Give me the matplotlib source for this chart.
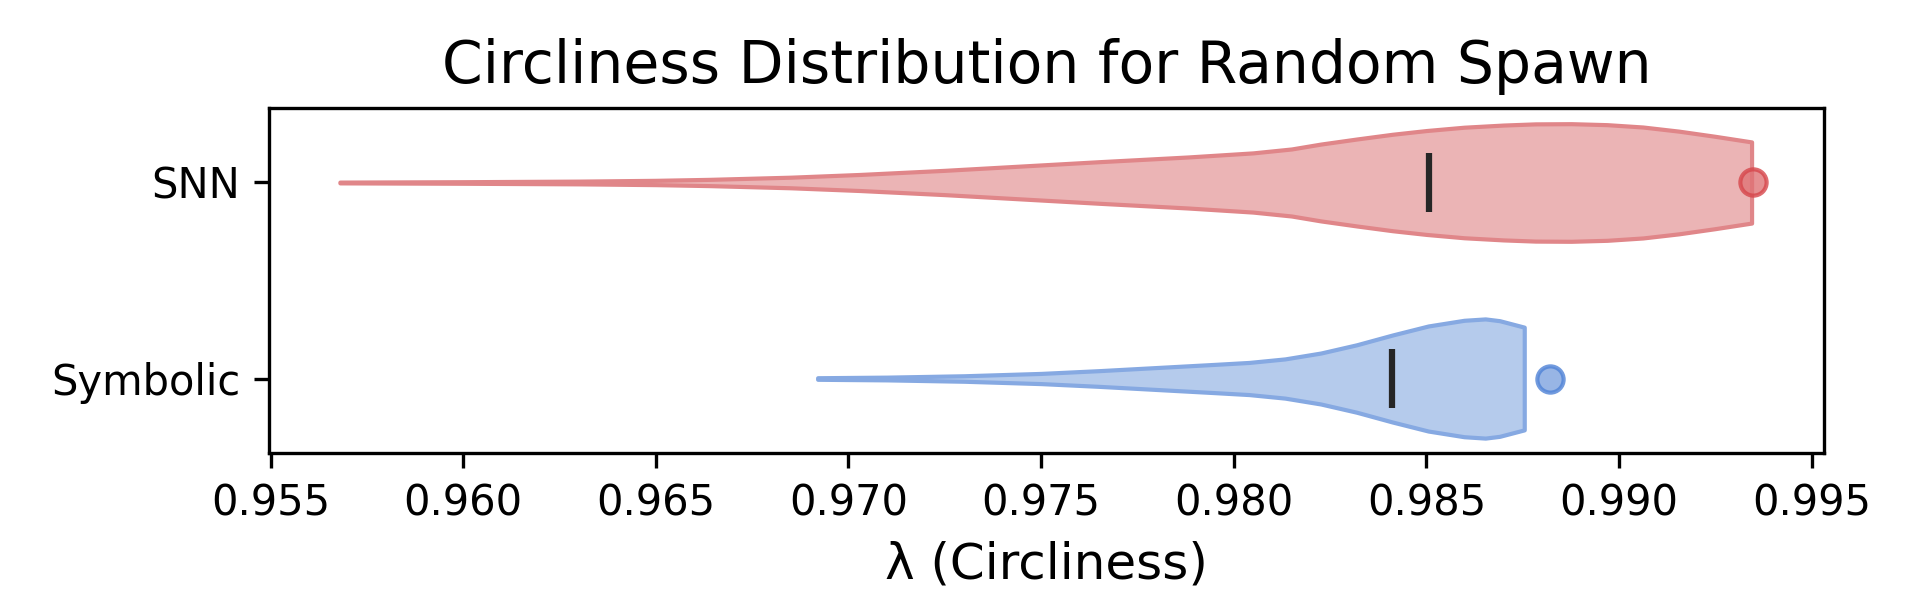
import matplotlib
matplotlib.use("Agg")
import matplotlib.pyplot as plt
import numpy as np

# ---- data ----
categories = ["Symbolic", "SNN"]

# SNN violin outline: lambda values and half-widths (y units)
snn_lambda = [0.9568, 0.9600, 0.9630, 0.9650, 0.9664, 0.9685, 0.9703, 0.9725,
              0.9745, 0.9765, 0.9788, 0.9805, 0.9815, 0.98226, 0.9832, 0.98412,
              0.9850, 0.98598, 0.9870, 0.98783, 0.98876, 0.98969, 0.99062,
              0.99155, 0.99248, 0.99344]
snn_half = [0.002, 0.004, 0.007, 0.011, 0.016, 0.027, 0.041, 0.062,
            0.084, 0.106, 0.130, 0.151, 0.171, 0.196, 0.222, 0.246,
            0.265, 0.282, 0.293, 0.299, 0.300, 0.295, 0.283,
            0.262, 0.236, 0.207]

# Symbolic violin outline
sym_lambda = [0.9692, 0.9710, 0.9730, 0.9750, 0.9765, 0.9780, 0.9795, 0.9804,
              0.98133, 0.98226, 0.98319, 0.98412, 0.98505, 0.98598, 0.98653,
              0.9869, 0.98754]
sym_half = [0.004, 0.007, 0.014, 0.026, 0.040, 0.056, 0.072, 0.082,
            0.100, 0.130, 0.172, 0.222, 0.268, 0.297, 0.304,
            0.295, 0.262]

medians = [0.98412, 0.98507]      # Symbolic, SNN
best = [0.98821, 0.99348]         # Symbolic, SNN (dot markers)

fill_colors = ["#b5cbec", "#ebb4b5"]
edge_colors = ["#86a9e2", "#e08689"]
dot_face = ["#7ea3df", "#df7376"]
dot_edge = ["#4f82d6", "#d6464b"]

# ---- figure ----
fig = plt.figure(figsize=(6.4, 2.0), dpi=300)
ax = fig.add_axes([0.1403, 0.245, 0.8097, 0.575])

outlines = [(sym_lambda, sym_half), (snn_lambda, snn_half)]
for pos, (lam, half) in enumerate(outlines):
    lam = np.asarray(lam)
    half = np.asarray(half)
    ax.fill_between(lam, pos - half, pos + half, facecolor=fill_colors[pos],
                    edgecolor=edge_colors[pos], linewidth=1.0, zorder=2)
    ax.plot([medians[pos], medians[pos]], [pos - 0.15, pos + 0.15],
            color="#262626", linewidth=1.5, solid_capstyle="butt", zorder=3)
    ax.plot([best[pos]], [pos], marker="o", markersize=6.3,
            markerfacecolor=dot_face[pos], markeredgecolor=dot_edge[pos],
            markeredgewidth=1.0, alpha=0.8, linestyle="none", zorder=4)

ax.set_xlim(0.95497, 0.99532)
ax.set_ylim(-0.38, 1.38)
ax.set_yticks(range(len(categories)))
ax.set_yticklabels(categories)
ax.set_xticks([0.955, 0.960, 0.965, 0.970, 0.975, 0.980, 0.985, 0.990, 0.995])
ax.set_xticklabels(["0.955", "0.960", "0.965", "0.970", "0.975", "0.980",
                    "0.985", "0.990", "0.995"])
ax.tick_params(labelsize=10)
ax.set_xlabel("λ (Circliness)", fontsize=12)
ax.set_title("Circliness Distribution for Random Spawn", fontsize=14)

fig.savefig("out.png", dpi=300)
